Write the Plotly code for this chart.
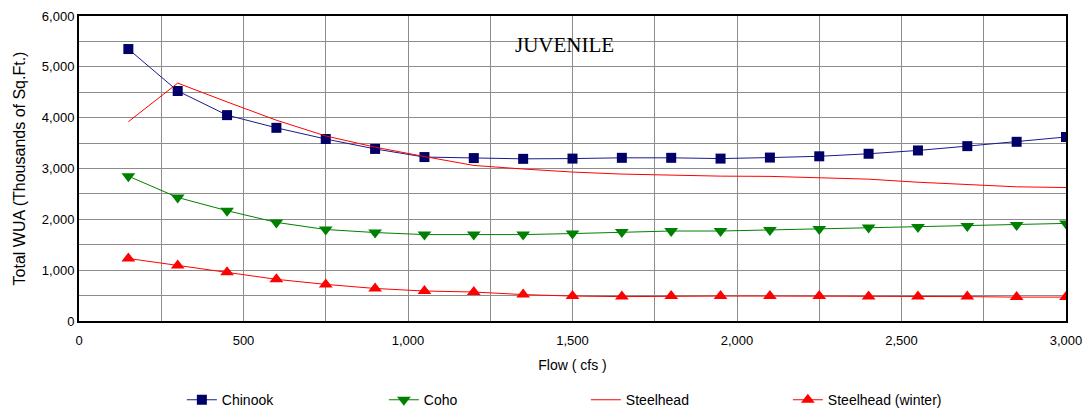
import plotly.graph_objects as go

flow = [150, 300, 450, 600, 750, 900, 1050, 1200, 1350, 1500,
        1650, 1800, 1950, 2100, 2250, 2400, 2550, 2700, 2850, 3000]

chinook = [5350, 4525, 4050, 3800, 3580, 3385, 3225, 3205, 3190, 3195,
           3210, 3210, 3195, 3215, 3240, 3290, 3355, 3440, 3525, 3620]
coho = [2850, 2430, 2170, 1940, 1800, 1740, 1700, 1700, 1700, 1720,
        1750, 1770, 1770, 1790, 1810, 1840, 1850, 1870, 1890, 1920]
steelhead = [3920, 4680, 4310, 3950, 3640, 3420, 3235, 3060, 2990, 2930,
             2890, 2870, 2850, 2845, 2825, 2790, 2730, 2680, 2640, 2625]
steelhead_winter = [1230, 1090, 960, 820, 720, 640, 590, 570, 520, 490,
                    480, 490, 490, 490, 490, 480, 480, 480, 470, 470]

font = "Liberation Sans, Arial, sans-serif"

fig = go.Figure()
fig.add_trace(go.Scatter(
    x=flow, y=chinook, name="Chinook", mode="lines+markers",
    line=dict(color="#1a1a8c", width=1),
    marker=dict(symbol="square", size=10, color="#000066"),
))
fig.add_trace(go.Scatter(
    x=flow, y=coho, name="Coho", mode="lines+markers",
    line=dict(color="#008000", width=1),
    marker=dict(symbol="triangle-down", size=12, color="#008000"),
))
fig.add_trace(go.Scatter(
    x=flow, y=steelhead, name="Steelhead", mode="lines",
    line=dict(color="#ff0000", width=1),
))
fig.add_trace(go.Scatter(
    x=flow, y=steelhead_winter, name="Steelhead (winter)", mode="lines+markers",
    line=dict(color="#ff0000", width=1),
    marker=dict(symbol="triangle-up", size=12, color="#ff0000"),
))

fig.add_annotation(
    x=1477, y=5420, xref="x", yref="y", text="JUVENILE", showarrow=False,
    font=dict(family="Liberation Serif, Times New Roman, serif", size=21, color="black"),
)

fig.update_layout(
    width=1089, height=410,
    margin=dict(l=79, r=23, t=16, b=89, autoexpand=False),
    paper_bgcolor="white", plot_bgcolor="white",
    font=dict(family=font, size=13, color="black"),
    showlegend=True,
    legend=dict(
        orientation="h", xref="container", yref="container",
        x=0.167, y=0.024, xanchor="left", yanchor="middle",
        entrywidth=157, entrywidthmode="pixels",
        font=dict(family=font, size=14),
    ),
)
fig.update_xaxes(
    range=[0, 3000], dtick=500, tickformat=",d",
    showgrid=True, gridcolor="#8c8c8c", gridwidth=1,
    minor=dict(dtick=250, showgrid=True, gridcolor="#8c8c8c"),
    showline=True, linecolor="black", linewidth=2, mirror=True,
    zeroline=False, ticks="", ticklabelstandoff=6,
    title=dict(text="Flow ( cfs )", font=dict(size=14), standoff=14),
)
fig.update_yaxes(
    range=[0, 6000], dtick=1000, tickformat=",d",
    showgrid=True, gridcolor="#8c8c8c", gridwidth=1,
    minor=dict(dtick=500, showgrid=True, gridcolor="#8c8c8c"),
    showline=True, linecolor="black", linewidth=2, mirror=True,
    zeroline=False, ticks="",
    title=dict(text="Total WUA (Thousands of Sq.Ft.)", font=dict(size=16), standoff=12),
)

fig.write_html("out.html")
